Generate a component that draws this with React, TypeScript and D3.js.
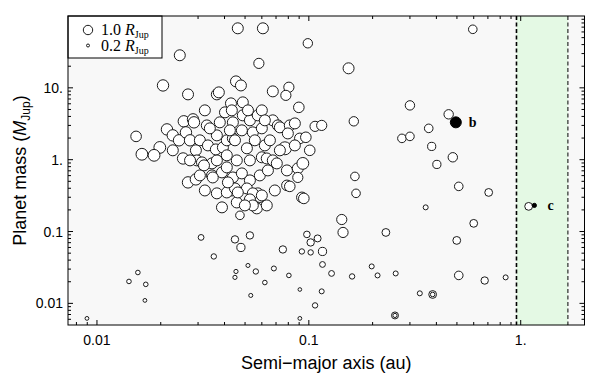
import * as d3 from "d3"

// [semi-major axis (au), planet mass (M_Jup), planet radius (R_Jup)]
const hotJupiters: [number, number, number][] = [
  [0.0246, 28.4, 1.2], [0.0462, 67.4, 1.2], [0.0607, 67.4, 1.2], [0.0989, 41.7, 1.0],
  [0.154, 18.7, 1.2], [0.0205, 10.8, 1.25], [0.0269, 8.11, 1.2], [0.0368, 8.11, 1.2],
  [0.0376, 8.65, 1.2], [0.0453, 12.3, 1.2], [0.0478, 10.8, 1.2], [0.0581, 21.9, 1.1],
  [0.0676, 8.93, 1.2], [0.0805, 10.2, 1.1], [0.0779, 7.86, 1.1], [0.0897, 5.35, 1.15],
  [0.163, 3.42, 1.0], [0.0429, 6.08, 1.2], [0.0488, 6.28, 1.2], [0.0402, 4.56, 1.2],
  [0.0488, 4.14, 1.2], [0.0257, 3.42, 1.25], [0.0284, 3.64, 1.25], [0.0287, 3.31, 1.25],
  [0.038, 3.31, 1.2], [0.0438, 3.31, 1.2], [0.0433, 4.86, 1.2], [0.0483, 2.56, 1.2],
  [0.0214, 2.64, 1.25], [0.0153, 2.11, 1.15], [0.0228, 2.18, 1.25], [0.0244, 1.86, 1.25],
  [0.0263, 2.4, 1.25], [0.0275, 1.86, 1.25], [0.0306, 1.86, 1.2], [0.0334, 1.58, 1.2],
  [0.0198, 1.48, 1.3], [0.0163, 1.19, 1.3], [0.0186, 1.15, 1.3], [0.0228, 1.35, 1.2],
  [0.0255, 1.04, 1.25], [0.0293, 1.35, 1.2], [0.0296, 0.978, 1.2], [0.0313, 0.917, 1.2],
  [0.0349, 0.888, 1.2], [0.0368, 0.978, 1.2], [0.0364, 1.39, 1.2], [0.0393, 1.48, 1.2],
  [0.041, 1.15, 1.2], [0.041, 1.86, 1.2], [0.0438, 1.98, 1.2], [0.0368, 2.18, 1.2],
  [0.0424, 2.56, 1.2], [0.0457, 0.978, 1.2], [0.0269, 0.483, 1.25], [0.0293, 0.532, 1.25],
  [0.0349, 0.604, 1.2], [0.0389, 0.665, 1.2], [0.0368, 0.34, 1.2], [0.0433, 0.373, 1.2],
  [0.0676, 3.53, 1.2], [0.0714, 3.0, 1.2], [0.073, 2.82, 1.2], [0.0813, 3.0, 1.2],
  [0.0859, 3.2, 1.2], [0.107, 2.91, 1.1], [0.115, 3.0, 1.1], [0.0796, 2.32, 1.2],
  [0.0907, 1.98, 1.15], [0.0968, 2.05, 1.15], [0.0771, 1.44, 1.45], [0.0448, 1.86, 1.2],
  [0.0544, 2.4, 1.2], [0.0556, 1.86, 1.2], [0.051, 1.44, 1.2], [0.06, 1.08, 1.2],
  [0.0633, 1.04, 1.2], [0.0676, 0.978, 1.2], [0.0706, 0.888, 1.2], [0.0788, 0.709, 1.2],
  [0.0887, 0.756, 1.2], [0.0937, 0.888, 1.3], [0.165, 0.585, 0.9], [0.167, 0.34, 0.9],
  [0.0887, 0.566, 1.1], [0.0788, 0.439, 1.15], [0.0813, 0.425, 1.15], [0.0927, 0.299, 1.15],
  [0.0947, 0.289, 1.15], [0.0352, 0.566, 1.2], [0.041, 0.781, 1.2], [0.0438, 0.566, 1.2],
  [0.0483, 0.644, 1.2], [0.0527, 0.515, 1.2], [0.0587, 0.604, 1.2], [0.0641, 0.709, 1.2],
  [0.041, 0.35, 1.2], [0.0448, 0.398, 1.2], [0.051, 0.398, 1.2], [0.0574, 0.34, 1.2],
  [0.0587, 0.299, 1.1], [0.0389, 0.217, 1.2], [0.0457, 0.254, 1.2], [0.0568, 0.21, 1.2],
  [0.0633, 0.231, 1.2], [0.0473, 0.168, 0.9], [0.143, 0.147, 1.1], [0.145, 0.0971, 1.1],
  [0.0462, 0.35, 1.2], [0.0544, 0.34, 1.2], [0.06, 0.318, 1.2], [0.0527, 0.28, 1.2],
  [0.0544, 0.231, 1.2], [0.033, 3.0, 1.2], [0.0527, 3.53, 1.2], [0.06, 2.73, 1.2],
  [0.062, 1.58, 1.2], [0.0527, 0.978, 1.2], [0.032, 0.833, 1.2], [0.0574, 4.14, 1.2],
  [0.0323, 4.86, 1.2], [0.0341, 2.73, 1.2], [0.06, 4.86, 1.2], [0.0655, 1.86, 1.2],
  [0.073, 1.35, 1.2], [0.0499, 0.231, 1.2], [0.0691, 0.373, 1.2], [0.0323, 0.373, 1.2],
  [0.0306, 0.604, 1.2], [0.0275, 0.978, 1.2], [0.0516, 4.86, 1.2], [0.062, 3.53, 1.2],
  [0.101, 1.35, 1.15], [0.0859, 1.58, 1.2], [0.0415, 0.483, 1.2],
]

const warmGiants: [number, number, number][] = [
  [0.594, 65.3, 0.9], [0.457, 4.28, 1.0], [0.368, 2.73, 0.9], [0.3, 5.7, 1.0],
  [0.275, 1.98, 0.9], [0.3, 2.11, 0.9], [0.38, 1.53, 0.85], [0.478, 1.08, 1.0],
  [0.402, 0.859, 0.85], [0.51, 0.425, 0.9], [0.706, 0.35, 0.8], [0.356, 0.217, 0.45],
  [1.09, 0.224, 0.8], [0.6, 0.13, 0.8], [0.499, 0.0752, 0.8], [0.51, 0.0245, 0.9],
  [0.676, 0.0208, 0.75], [0.849, 0.023, 0.45], [0.384, 0.0133, 0.8], [0.384, 0.0133, 0.4],
  [0.334, 0.0138, 0.45], [0.255, 0.00679, 0.7], [0.255, 0.00679, 0.35], [0.231, 0.0971, 0.8],
  [0.198, 0.0327, 0.45], [0.211, 0.0245, 0.45], [0.257, 0.0261, 0.45],
]

const smallPlanets: [number, number, number][] = [
  [0.031, 0.0828, 0.55], [0.0356, 0.045, 0.5], [0.0448, 0.0777, 0.75], [0.0527, 0.0883, 0.75],
  [0.0478, 0.06, 0.85], [0.0516, 0.0337, 0.33], [0.0453, 0.0278, 0.35], [0.0448, 0.023, 0.35],
  [0.0562, 0.0278, 0.5], [0.062, 0.0195, 0.4], [0.0684, 0.0306, 0.45], [0.0532, 0.0129, 0.33],
  [0.0754, 0.0563, 0.75], [0.0805, 0.0245, 0.4], [0.0979, 0.0912, 0.65], [0.102, 0.0705, 0.75],
  [0.11, 0.0802, 0.7], [0.116, 0.0528, 0.85], [0.0927, 0.0528, 0.5], [0.102, 0.0512, 0.5],
  [0.116, 0.0348, 0.55], [0.128, 0.0261, 0.55], [0.16, 0.0237, 0.5], [0.0907, 0.0156, 0.28],
  [0.115, 0.0147, 0.45], [0.107, 0.00937, 0.5], [0.0907, 0.00618, 0.3], [0.01416, 0.0202, 0.4],
  [0.0156, 0.0269, 0.4], [0.017, 0.0184, 0.4], [0.01684, 0.011, 0.3], [0.00897, 0.00618, 0.3],
]

// the highlighted system
const systemNames = ["b", "c"]
const systemA = [0.494, 1.16]
const systemMass = [3.31, 0.231]
const systemRadius = [1.2, 0.35]

// habitable zone edges (au)
const zoneInner = 0.955
const zoneOuter = 1.67

const xTickValues = [0.01, 0.1, 1]
const xTickLabels = ["0.01", "0.1", "1."]
const yTickValues = [0.01, 0.1, 1, 10]
const yTickLabels = ["0.01", "0.1", "1.", "10."]

const legendRadii = [1.0, 0.2]

const W = 600
const H = 389
const left = 68
const right = 584.5
const top = 16
const bottom = 325
const sans = "'Liberation Sans', Arial, Helvetica, sans-serif"
const serif = "'Liberation Serif', 'Times New Roman', serif"

export default function App() {
  const x = d3.scaleLog().domain([0.0073, 2]).range([left, right])
  const y = d3.scaleLog().domain([0.005, 100]).range([bottom, top])
  const r = d3.scaleLinear().domain([0, 1]).range([0.7, 4.7])

  const isMajor = (v: number) => Math.abs(Math.log10(v) - Math.round(Math.log10(v))) < 1e-6
  const xTicks = x.ticks().filter((v) => x(v) > left + 0.5 && x(v) < right - 0.5)
  const yTicks = y.ticks().filter((v) => y(v) < bottom - 0.5 && y(v) > top + 0.5)

  const allPoints = [...hotJupiters, ...smallPlanets, ...warmGiants]

  return (
    <div style={{ position: "absolute", left: 0, top: 0 }}>
      <svg width={W} height={H} style={{ display: "block", background: "#fff" }}>
        <rect x={left} y={top} width={right - left} height={bottom - top} fill="#f8f8f8" />
        <rect x={x(zoneInner)} y={top} width={x(zoneOuter) - x(zoneInner)} height={bottom - top} fill="#e4f9e4" />
        <line x1={x(zoneInner)} x2={x(zoneInner)} y1={top} y2={bottom} stroke="#000" strokeWidth={1.6} strokeDasharray="4,2.5" />
        <line x1={x(zoneOuter)} x2={x(zoneOuter)} y1={top} y2={bottom} stroke="#000" strokeWidth={1} strokeDasharray="4,2.5" />

        {/* ticks on all four sides */}
        <g stroke="#000" strokeWidth={1}>
          {xTicks.map((v, i) => {
            const len = isMajor(v) ? 5 : 3
            return (
              <g key={"xt" + i}>
                <line x1={x(v)} x2={x(v)} y1={bottom} y2={bottom - len} />
                <line x1={x(v)} x2={x(v)} y1={top} y2={top + len} />
              </g>
            )
          })}
          {yTicks.map((v, i) => {
            const len = isMajor(v) ? 5 : 3
            return (
              <g key={"yt" + i}>
                <line x1={left} x2={left + len} y1={y(v)} y2={y(v)} />
                <line x1={right} x2={right - len} y1={y(v)} y2={y(v)} />
              </g>
            )
          })}
        </g>

        {/* population */}
        <g fill="#fff" stroke="#1a1a1a" strokeWidth={1}>
          {allPoints.map((d, i) => (
            <circle key={"p" + i} cx={x(d[0])} cy={y(d[1])} r={r(d[2])} />
          ))}
        </g>

        {/* highlighted planets */}
        {systemNames.map((name, i) => (
          <g key={name}>
            <circle cx={x(systemA[i])} cy={y(systemMass[i])} r={r(systemRadius[i])} fill="#000" stroke="#000" />
            <text
              x={x(systemA[i]) + 13}
              y={y(systemMass[i])}
              dy="0.32em"
              fontFamily={serif}
              fontWeight="bold"
              fontSize={14}
            >
              {name}
            </text>
          </g>
        ))}

        {/* legend */}
        <rect x={left} y={top} width={94} height={42} fill="#fff" stroke="#000" strokeWidth={1} />
        {legendRadii.map((v, i) => (
          <g key={"lg" + i}>
            <circle cx={88} cy={30 + i * 15.5} r={r(v)} fill="#fff" stroke="#1a1a1a" strokeWidth={1} />
            <text x={101} y={30 + i * 15.5} dy="0.33em" fontFamily={serif} fontSize={16}>
              {v.toFixed(1)} <tspan fontStyle="italic">R</tspan>
              <tspan fontSize={10} dy={3}>Jup</tspan>
            </text>
          </g>
        ))}

        <rect x={left} y={top} width={right - left} height={bottom - top} fill="none" stroke="#000" strokeWidth={1} />

        {/* tick labels */}
        {xTickValues.map((v, i) => (
          <text key={"xl" + i} x={x(v)} y={345} textAnchor="middle" fontFamily={sans} fontSize={14}>
            {xTickLabels[i]}
          </text>
        ))}
        {yTickValues.map((v, i) => (
          <text key={"yl" + i} x={63} y={y(v)} dy="0.36em" textAnchor="end" fontFamily={sans} fontSize={14}>
            {yTickLabels[i]}
          </text>
        ))}

        <text x={(left + right) / 2} y={369} textAnchor="middle" fontFamily={sans} fontSize={18}>
          Semi−major axis (au)
        </text>
        <text transform={`translate(26,${(top + bottom) / 2}) rotate(-90)`} textAnchor="middle" fontFamily={sans} fontSize={18}>
          Planet mass (<tspan fontStyle="italic">M</tspan>
          <tspan fontSize={12} dy={4}>Jup</tspan>
          <tspan dy={-4}>)</tspan>
        </text>
      </svg>
    </div>
  )
}
